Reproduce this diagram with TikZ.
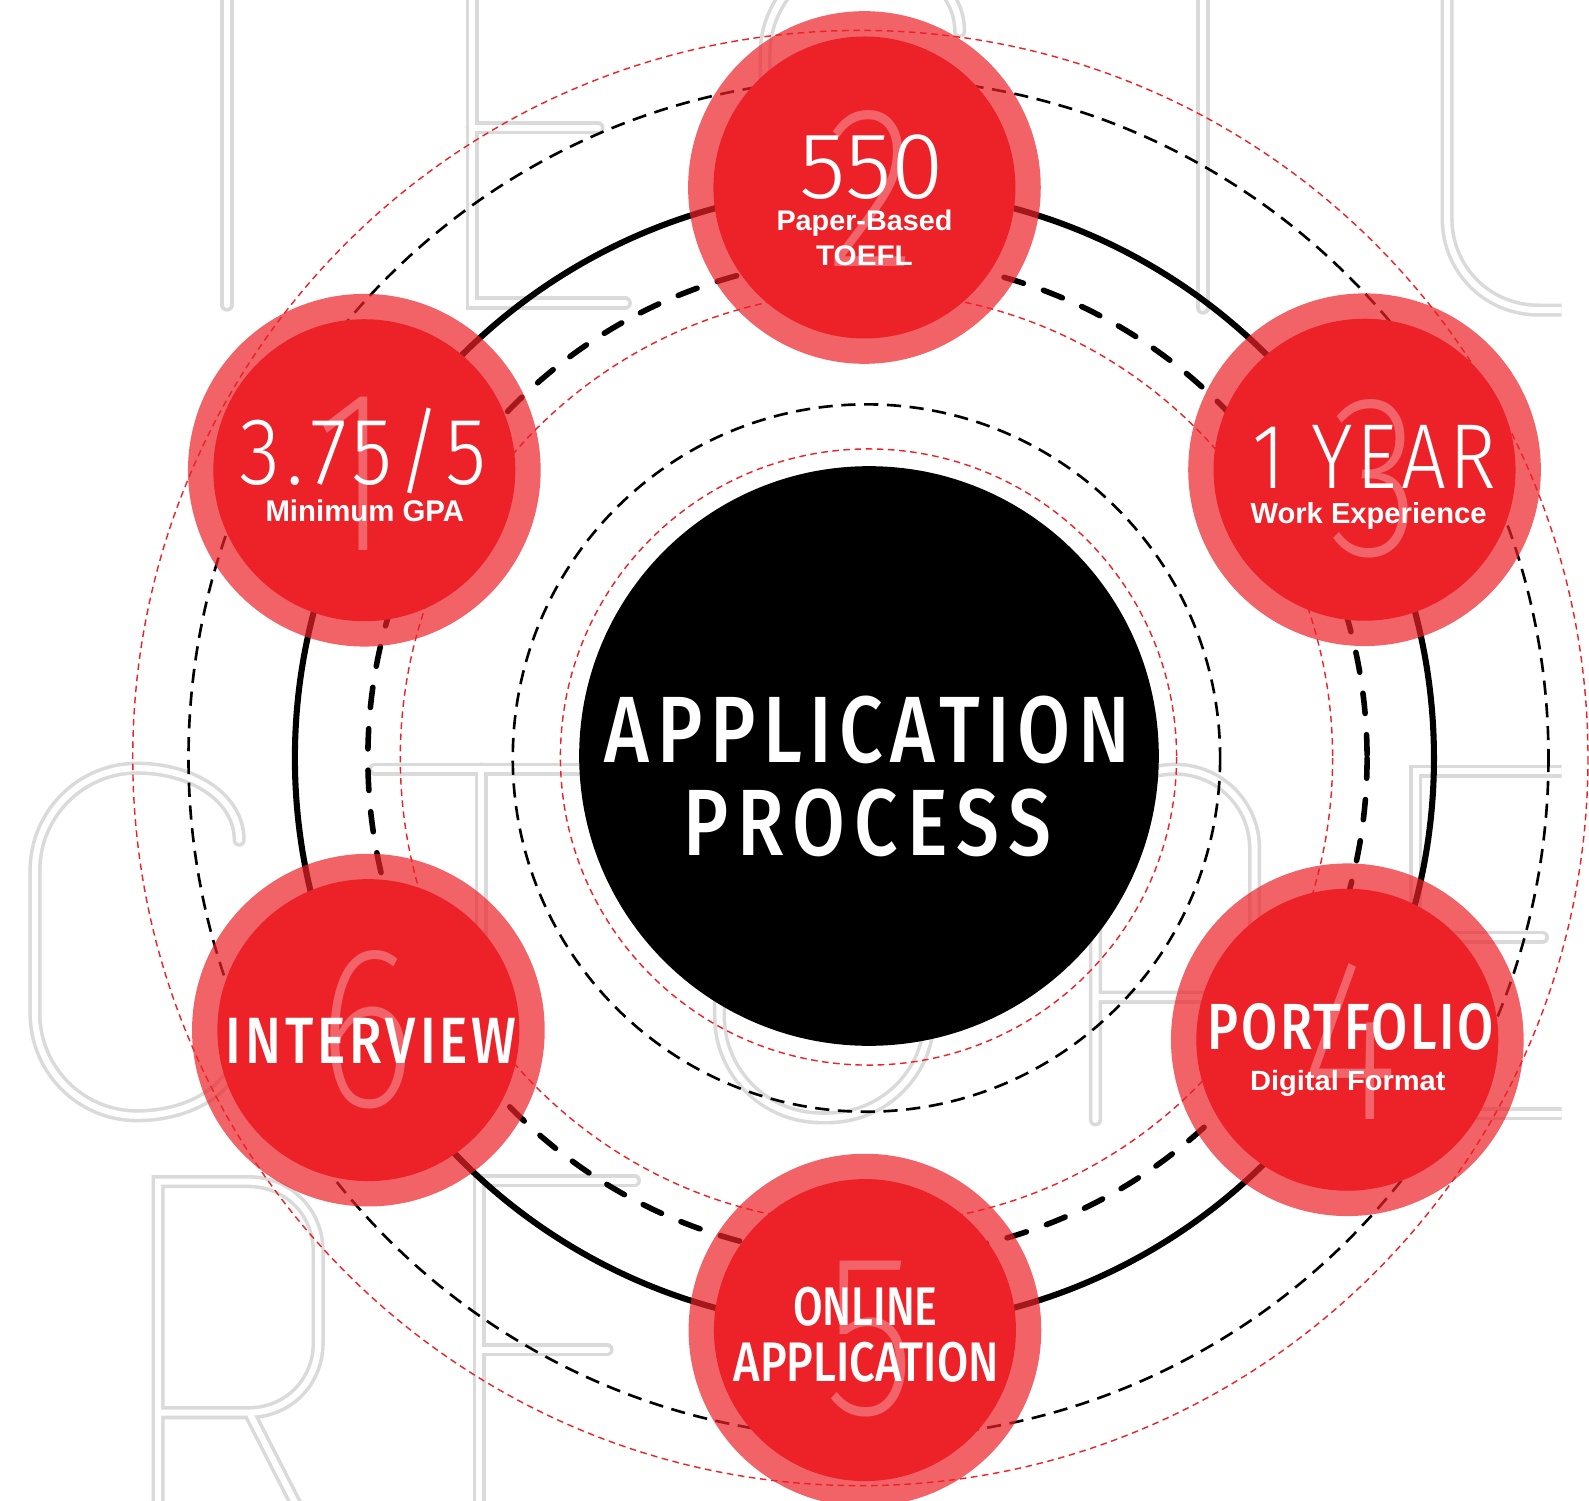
\documentclass[tikz,border=0pt]{standalone}
\usepackage{fontspec}
\usepackage{graphicx}
\setmainfont{Liberation Sans}
\IfFontExistsTF{Fira Sans Medium}{\newfontfamily\condf[FakeStretch=0.82]{Fira Sans Medium}}{%
 \newfontfamily\condf[FakeStretch=0.82]{Fira Sans}}
\IfFontExistsTF{Fira Sans Light}{\newfontfamily\condl[FakeStretch=0.82]{Fira Sans Light}}{%
 \IfFontExistsTF{Lato Light}{\newfontfamily\condl[FakeStretch=0.82]{Lato Light}}{%
 \IfFontExistsTF{Open Sans Light}{\newfontfamily\condl[FakeStretch=0.82]{Open Sans Light}}{%
 \newfontfamily\condl[FakeStretch=0.82]{Fira Sans}}}}
\IfFontExistsTF{Fira Sans ExtraLight}{\newfontfamily\condx[FakeStretch=0.82]{Fira Sans ExtraLight}}{%
 \IfFontExistsTF{Lato Hairline}{\newfontfamily\condx[FakeStretch=0.82]{Lato Hairline}}{\let\condx\condl}}
\definecolor{redc}{RGB}{237,33,40}
\definecolor{ringc}{RGB}{242,100,106}
\definecolor{lettc}{RGB}{218,218,218}
\newcommand\fitw[2]{\resizebox{#1}{\height}{#2}}
\newcommand\bgletters[1]{%
 \draw[#1] (224,-30) -- (224,301);
 \draw[#1] (617,-40) -- (466,-40) -- (466,299) -- (617,299) (466,126) -- (590,126);
 \draw[#1] (947,31) .. controls (947,-12) and (904,-43) .. (851,-43) .. controls (798,-43) and (755,0) .. (755,53) -- (755,204) .. controls (755,257) and (798,300) .. (851,300) .. controls (904,300) and (947,270) .. (947,227);
 \draw[#1] (1187,-30) -- (1187,304);
 \draw[#1] (1428,-30) -- (1428,216) .. controls (1428,266) and (1468,306) .. (1518,306) -- (1580,306);
 \draw[#1] (236,829) .. controls (236,787) and (190,758) .. (135,758) .. controls (80,758) and (34.5,803) .. (34.5,859) -- (34.5,1000) .. controls (34.5,1056) and (80,1101) .. (135,1101) .. controls (190,1101) and (236,1072) .. (236,1030);
 \draw[#1] (370,759) -- (571,759) (475,759) -- (475,1101);
 \draw[#1, rounded corners=100pt] (710,758) rectangle (917,1103);
 \draw[#1] (1081,1105) -- (1081,837) .. controls (1081,794) and (1116,759) .. (1159.5,759) .. controls (1203,759) and (1238,794) .. (1238,837) -- (1238,1105) (1081,984) -- (1238,984);
 \draw[#1] (1580,761) -- (1397,761) -- (1397,1099) -- (1580,1099) (1397,925) -- (1522,925);
 \draw[#1] (156,1500) -- (156,1166) -- (245,1166) .. controls (284,1166) and (314,1196) .. (314,1235) -- (314,1325) .. controls (314,1364) and (284,1394) .. (245,1394) -- (156,1394) (247,1396) -- (300,1500);
 \draw[#1] (473,1500) -- (473,1165) -- (626,1165) (473,1332) -- (599,1332);
}
\tikzset{
 bglet/.style={line width=13pt, draw=lettc, line cap=round, line join=miter},
 bgin/.style={line width=6pt, draw=white, line cap=round, line join=miter},
 thindash/.style={draw=black, line width=2.6pt, dash pattern=on 14pt off 8.5pt},
 reddash/.style={draw=redc, line width=1.4pt, dash pattern=on 6.5pt off 4.5pt},
 thickdash/.style={draw=black, line width=5.5pt, line cap=round, dash pattern=on 20pt off 21pt},
 solidring/.style={draw=black, line width=6pt},
 ringnode/.style={circle, fill=redc, fill opacity=0.7, minimum size=348pt, inner sep=0pt, draw=none},
 innernode/.style={circle, fill=redc, minimum size=298pt, inner sep=0pt, draw=none},
 lbl/.style={inner sep=0pt, anchor=base, text=white},
 faint/.style={inner sep=0pt, anchor=base, text=ringc, font=\condx\fontsize{228}{228}\selectfont},
}
\begin{document}
\begin{tikzpicture}[x=1pt,y=-1pt]
\useasboundingbox (0,0) rectangle (1568,1481);
\clip (0,0) rectangle (1568,1481);
\fill[white] (0,0) rectangle (1568,1481);
% background outlined letters
\begin{scope}
\clip (0,-60) rectangle (1541,1500);
\bgletters{bglet}
\bgletters{bgin}
\end{scope}
% concentric rings
\draw[reddash] (849,748) circle (718);
\draw[thindash] (857,748) circle (671);
\draw[solidring] (853,748) circle (562);
\draw[thickdash] (856,748) circle (493);
\draw[reddash] (855,748) circle (460);
\draw[thindash] (855,748) circle (349);
\draw[reddash] (857,747) circle (304);
\node[circle, fill=black, minimum size=572pt, inner sep=0pt] (core) at (857.5,746) {};
% red step circles
\node[ringnode] (r1) at (359.5,464) {};
\node[innernode] (c1) at (359.5,464) {};
\node[ringnode] (r2) at (853,185) {};
\node[innernode] (c2) at (853,185) {};
\node[ringnode] (r3) at (1346.5,463.5) {};
\node[innernode] (c3) at (1346.5,463.5) {};
\node[ringnode] (r4) at (1329.5,1026) {};
\node[innernode] (c4) at (1329.5,1026) {};
\node[ringnode] (r5) at (853.5,1312.5) {};
\node[innernode] (c5) at (853.5,1312.5) {};
\node[ringnode] (r6) at (363.5,1016.5) {};
\node[innernode] (c6) at (363.5,1016.5) {};
% faint step numbers
\node[faint] (d1) at (348.5,543) {1};
\node[faint] (d2) at (860,263) {2};
\node[faint] (d3) at (1357,548) {3};
\node[faint] (d4) at (1332,1105) {4};
\node[faint] (d5) at (859,1396) {5};
\node[faint] (d6) at (362,1092) {6};
% labels
\node[lbl] (t550) at (860,195.5) {\fitw{143pt}{\condl\fontsize{93}{93}\selectfont 550}};
\node[lbl] (tpb) at (853,227) {\fitw{173.5pt}{\bfseries\fontsize{28}{28}\selectfont Paper-Based}};
\node[lbl] (ttoefl) at (853,261.5) {\fitw{95.5pt}{\bfseries\fontsize{28}{28}\selectfont TOEFL}};
\node[lbl] (tgpa) at (358.5,477.8) {\fitw{244pt}{\condl\addfontfeature{LetterSpace=6}\fontsize{94}{94}\selectfont 3.75/5}};
\node[lbl] (tmin) at (360,514.7) {\fitw{196pt}{\bfseries\fontsize{29.5}{29.5}\selectfont Minimum GPA}};
\node[lbl] (tyear) at (1356.5,482.5) {\fitw{241pt}{\condl\addfontfeature{LetterSpace=4}\fontsize{91}{91}\selectfont 1 YEAR}};
\node[lbl] (twork) at (1350.5,517) {\fitw{233pt}{\bfseries\fontsize{28.6}{28.6}\selectfont Work Experience}};
\node[lbl] (tapp) at (856,752) {\fitw{518pt}{\condf\addfontfeature{LetterSpace=8}\fontsize{93}{93}\selectfont APPLICATION}};
\node[lbl] (tproc) at (855.5,843.7) {\fitw{363pt}{\condf\addfontfeature{LetterSpace=10}\fontsize{93}{93}\selectfont PROCESS}};
\node[lbl] (tint) at (366.4,1049.3) {\fitw{287pt}{\condf\addfontfeature{LetterSpace=6}\fontsize{64.6}{64.6}\selectfont INTERVIEW}};
\node[lbl] (tport) at (1333,1036) {\fitw{282pt}{\condf\addfontfeature{LetterSpace=4}\fontsize{64.4}{64.4}\selectfont PORTFOLIO}};
\node[lbl] (tdig) at (1330,1075.6) {\fitw{193pt}{\bfseries\fontsize{27.5}{27.5}\selectfont Digital Format}};
\node[lbl] (tonl) at (854,1307.5) {\fitw{142.6pt}{\condf\fontsize{53.7}{53.7}\selectfont ONLINE}};
\node[lbl] (tapp2) at (854.8,1363.4) {\fitw{261.6pt}{\condf\fontsize{55}{55}\selectfont APPLICATION}};
\end{tikzpicture}
\end{document}
